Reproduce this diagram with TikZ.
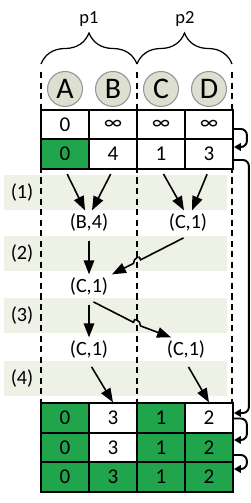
\documentclass[tikz,border=0pt]{standalone}
\usepackage{fontspec}
\setmainfont{Carlito}
\usetikzlibrary{arrows.meta, calc, decorations.pathreplacing}

\definecolor{cellgreen}{RGB}{32,165,77}
\definecolor{bandfill}{RGB}{238,241,230}
\definecolor{vertexfill}{RGB}{221,224,208}
\definecolor{vertexdraw}{RGB}{150,150,150}

\begin{document}
\begin{tikzpicture}[
    x=0.02cm, y=-0.02cm,
    >={Triangle[length=2.8mm, width=2.1mm]},
    cell/.style={
        rectangle,
        draw=black,
        line width=1pt,
        minimum width=0.96cm,
        minimum height=0.59cm,
        inner sep=0pt,
        font=\fontsize{12}{14}\selectfont
    },
    vertex/.style={
        circle,
        draw=vertexdraw,
        fill=vertexfill,
        line width=0.6pt,
        minimum size=0.7cm,
        inner sep=0pt,
        font=\fontsize{17}{19}\selectfont
    },
    msg/.style={
        inner sep=0.07cm,
        font=\fontsize{11.5}{13}\selectfont
    },
    band/.style={fill=bandfill},
    steplabel/.style={font=\fontsize{11.5}{13}\selectfont},
    partlabel/.style={font=\fontsize{10.5}{12}\selectfont},
    part/.style={
        decorate,
        decoration={brace, amplitude=6.2mm},
        line width=0.7pt
    },
    partition/.style={
        dash pattern=on 3.5pt off 2.5pt,
        line width=0.7pt
    },
    arrow/.style={
        ->,
        line width=0.9pt,
        shorten <=1mm
    },
    sync/.style={
        -{Triangle[length=1.4mm, width=1.5mm]},
        line width=1.1pt,
        rounded corners=1.2mm
    }
]
\useasboundingbox (0,0) rectangle (250,503);

% Supersteps
\foreach \ya [count=\i] in {175,236,298,361} {
    \fill[band] (4,\ya) rectangle (227,\ya+35);
    \node[steplabel] (stage\i) at (22,\ya+17.5) {(\i)};
}

% Partitions
\foreach \xa in {41,137,232}
    \draw[partition] (\xa,72) -- (\xa,403);
\draw[part] (41,64) -- (137,64);
\draw[part] (137,64) -- (232,64);
\node[partlabel] (part1) at (89,19) {p1};
\node[partlabel] (part2) at (185,19) {p2};

% Vertices
\foreach \v [count=\k] in {A,B,C,D}
    \node[vertex] (v\v) at ({17+48*\k},89) {\v};

% Distance tables
\foreach \val/\col [count=\k] in {0/white,∞/white,∞/white,∞/white}
    \node[cell, fill=\col] (init\k) at ({17+48*\k},124.5) {\val};
\foreach \val/\col [count=\k] in {0/cellgreen,4/white,1/white,3/white}
    \node[cell, fill=\col] (cand\k) at ({17+48*\k},154) {\val};
\foreach \val/\col [count=\k] in {0/cellgreen,3/white,1/cellgreen,2/white}
    \node[cell, fill=\col] (upd\k) at ({17+48*\k},418) {\val};
\foreach \val/\col [count=\k] in {0/cellgreen,3/white,1/cellgreen,2/cellgreen}
    \node[cell, fill=\col] (mid\k) at ({17+48*\k},447.5) {\val};
\foreach \val/\col [count=\k] in {0/cellgreen,3/cellgreen,1/cellgreen,2/cellgreen}
    \node[cell, fill=\col] (fin\k) at ({17+48*\k},477) {\val};

% Messages
\node[msg] (msgB) at (89,223) {(B,4)};
\node[msg] (msgC) at (188,223) {(C,1)};
\node[msg] (minC) at (89,287) {(C,1)};
\node[msg] (outL) at (89,350) {(C,1)};
\node[msg] (outR) at (186,350) {(C,1)};

% Crossings over p1|p2
\coordinate (xa) at (intersection of msgC.south--minC.north east and 137,170--137,400);
\coordinate (xa1) at ($(xa)!0.08cm!(msgC.south)$);
\coordinate (xa2) at ($(xa)!0.08cm!(minC.north east)$);
\coordinate (xb) at (intersection of minC.south--outR.north west and 137,170--137,400);
\coordinate (xb1) at ($(xb)!0.08cm!(minC.south)$);
\coordinate (xb2) at ($(xb)!0.08cm!(outR.north west)$);

% Message flow
\draw[arrow] (cand1.south) -- ([xshift=-0.08cm]msgB.north);
\draw[arrow] (cand2.south) -- ([xshift=0.06cm]msgB.north);
\draw[arrow] (cand3.south) -- ([xshift=-0.08cm]msgC.north);
\draw[arrow] (cand4.south) -- ([xshift=0.08cm]msgC.north);
\draw[arrow] (msgB) -- (minC);
\draw[arrow] (msgC.south) -- (xa1) .. controls ([yshift=0.11cm]xa1) and ([yshift=0.11cm]xa2) .. (xa2) -- (minC.north east);
\draw[arrow] (minC) -- (outL);
\draw[arrow] (minC.south) -- (xb1) .. controls ([yshift=0.11cm]xb1) and ([yshift=0.11cm]xb2) .. (xb2) -- ([xshift=0.16cm]outR.north west);
\draw[arrow] (outL.south) -- (upd2.north);
\draw[arrow] (outR.south) -- (upd4.north);

% Synchronisation
\draw[sync] ([yshift=-0.09cm]init4.east) -- ++(0.26cm,0) |- ([yshift=0.14cm]cand4.east);
\draw[sync] ([yshift=-0.12cm]cand4.east) -- ++(0.3cm,0) |- ([yshift=0.1cm]upd4.east);
\draw[sync] ([yshift=-0.01cm]upd4.east) -- ++(0.26cm,0) |- ([yshift=0.15cm]mid4.east);
\draw[sync] ([yshift=-0.15cm]mid4.east) -- ++(0.26cm,0) |- ([yshift=0.16cm]fin4.east);

\end{tikzpicture}
\end{document}
